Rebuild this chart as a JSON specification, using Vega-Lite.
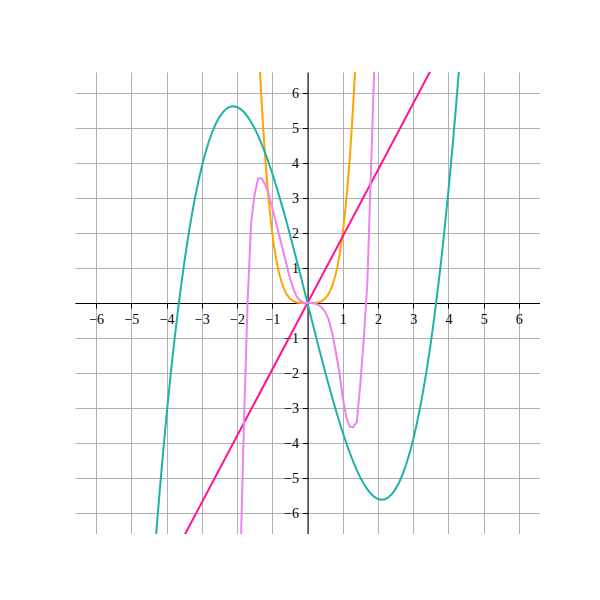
{
  "$schema": "https://vega.github.io/schema/vega-lite/v6.json",
  "width": 465,
  "height": 462,
  "autosize": {"type": "none"},
  "padding": {"left": 75, "top": 72, "right": 0, "bottom": 0},
  "background": "white",
  "config": {
    "view": {"stroke": null},
    "axis": {
      "labelFont": "Liberation Serif",
      "labelFontSize": 14,
      "labelColor": "black",
      "domainColor": "black",
      "domainWidth": 1,
      "tickColor": "black",
      "tickWidth": 1,
      "tickSize": 5,
      "labelPadding": 4,
      "grid": true,
      "gridColor": "#b0b0b0",
      "gridWidth": 1,
      "title": null
    }
  },
  "data": {
    "values": [
      {"f": "orange", "x": -1.4, "y": 7.6832},
      {"f": "orange", "x": -1.35, "y": 6.643},
      {"f": "orange", "x": -1.3, "y": 5.7122},
      {"f": "orange", "x": -1.25, "y": 4.8828},
      {"f": "orange", "x": -1.2, "y": 4.1472},
      {"f": "orange", "x": -1.15, "y": 3.498},
      {"f": "orange", "x": -1.1, "y": 2.9282},
      {"f": "orange", "x": -1.05, "y": 2.431},
      {"f": "orange", "x": -1.0, "y": 2.0},
      {"f": "orange", "x": -0.95, "y": 1.629},
      {"f": "orange", "x": -0.9, "y": 1.3122},
      {"f": "orange", "x": -0.85, "y": 1.044},
      {"f": "orange", "x": -0.8, "y": 0.8192},
      {"f": "orange", "x": -0.7, "y": 0.4802},
      {"f": "orange", "x": -0.6, "y": 0.2592},
      {"f": "orange", "x": -0.5, "y": 0.125},
      {"f": "orange", "x": -0.4, "y": 0.0512},
      {"f": "orange", "x": -0.3, "y": 0.0162},
      {"f": "orange", "x": -0.2, "y": 0.0032},
      {"f": "orange", "x": -0.1, "y": 0.0002},
      {"f": "orange", "x": 0.0, "y": 0.0},
      {"f": "orange", "x": 0.1, "y": 0.0002},
      {"f": "orange", "x": 0.2, "y": 0.0032},
      {"f": "orange", "x": 0.3, "y": 0.0162},
      {"f": "orange", "x": 0.4, "y": 0.0512},
      {"f": "orange", "x": 0.5, "y": 0.125},
      {"f": "orange", "x": 0.6, "y": 0.2592},
      {"f": "orange", "x": 0.7, "y": 0.4802},
      {"f": "orange", "x": 0.8, "y": 0.8192},
      {"f": "orange", "x": 0.85, "y": 1.044},
      {"f": "orange", "x": 0.9, "y": 1.3122},
      {"f": "orange", "x": 0.95, "y": 1.629},
      {"f": "orange", "x": 1.0, "y": 2.0},
      {"f": "orange", "x": 1.05, "y": 2.431},
      {"f": "orange", "x": 1.1, "y": 2.9282},
      {"f": "orange", "x": 1.15, "y": 3.498},
      {"f": "orange", "x": 1.2, "y": 4.1472},
      {"f": "orange", "x": 1.25, "y": 4.8828},
      {"f": "orange", "x": 1.3, "y": 5.7122},
      {"f": "orange", "x": 1.35, "y": 6.643},
      {"f": "orange", "x": 1.4, "y": 7.6832},
      {"f": "pink", "x": -3.8, "y": -7.22},
      {"f": "pink", "x": 0.0, "y": 0.0},
      {"f": "pink", "x": 3.8, "y": 7.22},
      {"f": "teal", "x": -4.4, "y": -7.955},
      {"f": "teal", "x": -4.3, "y": -6.652},
      {"f": "teal", "x": -4.2, "y": -5.426},
      {"f": "teal", "x": -4.1, "y": -4.276},
      {"f": "teal", "x": -4.0, "y": -3.2},
      {"f": "teal", "x": -3.9, "y": -2.196},
      {"f": "teal", "x": -3.8, "y": -1.262},
      {"f": "teal", "x": -3.7, "y": -0.396},
      {"f": "teal", "x": -3.6, "y": 0.403},
      {"f": "teal", "x": -3.5, "y": 1.1375},
      {"f": "teal", "x": -3.4, "y": 1.809},
      {"f": "teal", "x": -3.3, "y": 2.419},
      {"f": "teal", "x": -3.2, "y": 2.97},
      {"f": "teal", "x": -3.1, "y": 3.463},
      {"f": "teal", "x": -3.0, "y": 3.9},
      {"f": "teal", "x": -2.9, "y": 4.283},
      {"f": "teal", "x": -2.8, "y": 4.614},
      {"f": "teal", "x": -2.7, "y": 4.895},
      {"f": "teal", "x": -2.6, "y": 5.127},
      {"f": "teal", "x": -2.5, "y": 5.3125},
      {"f": "teal", "x": -2.4, "y": 5.453},
      {"f": "teal", "x": -2.3, "y": 5.55},
      {"f": "teal", "x": -2.2, "y": 5.606},
      {"f": "teal", "x": -2.1, "y": 5.622},
      {"f": "teal", "x": -2.0, "y": 5.6},
      {"f": "teal", "x": -1.9, "y": 5.542},
      {"f": "teal", "x": -1.8, "y": 5.45},
      {"f": "teal", "x": -1.7, "y": 5.326},
      {"f": "teal", "x": -1.6, "y": 5.171},
      {"f": "teal", "x": -1.5, "y": 4.988},
      {"f": "teal", "x": -1.4, "y": 4.777},
      {"f": "teal", "x": -1.3, "y": 4.541},
      {"f": "teal", "x": -1.2, "y": 4.282},
      {"f": "teal", "x": -1.1, "y": 4.001},
      {"f": "teal", "x": -1.0, "y": 3.7},
      {"f": "teal", "x": -0.9, "y": 3.381},
      {"f": "teal", "x": -0.8, "y": 3.046},
      {"f": "teal", "x": -0.7, "y": 2.697},
      {"f": "teal", "x": -0.6, "y": 2.335},
      {"f": "teal", "x": -0.5, "y": 1.9625},
      {"f": "teal", "x": -0.4, "y": 1.581},
      {"f": "teal", "x": -0.3, "y": 1.1919},
      {"f": "teal", "x": -0.2, "y": 0.798},
      {"f": "teal", "x": -0.1, "y": 0.3997},
      {"f": "teal", "x": 0.0, "y": 0.0},
      {"f": "teal", "x": 0.1, "y": -0.3997},
      {"f": "teal", "x": 0.2, "y": -0.798},
      {"f": "teal", "x": 0.3, "y": -1.1919},
      {"f": "teal", "x": 0.4, "y": -1.581},
      {"f": "teal", "x": 0.5, "y": -1.9625},
      {"f": "teal", "x": 0.6, "y": -2.335},
      {"f": "teal", "x": 0.7, "y": -2.697},
      {"f": "teal", "x": 0.8, "y": -3.046},
      {"f": "teal", "x": 0.9, "y": -3.381},
      {"f": "teal", "x": 1.0, "y": -3.7},
      {"f": "teal", "x": 1.1, "y": -4.001},
      {"f": "teal", "x": 1.2, "y": -4.282},
      {"f": "teal", "x": 1.3, "y": -4.541},
      {"f": "teal", "x": 1.4, "y": -4.777},
      {"f": "teal", "x": 1.5, "y": -4.988},
      {"f": "teal", "x": 1.6, "y": -5.171},
      {"f": "teal", "x": 1.7, "y": -5.326},
      {"f": "teal", "x": 1.8, "y": -5.45},
      {"f": "teal", "x": 1.9, "y": -5.542},
      {"f": "teal", "x": 2.0, "y": -5.6},
      {"f": "teal", "x": 2.1, "y": -5.622},
      {"f": "teal", "x": 2.2, "y": -5.606},
      {"f": "teal", "x": 2.3, "y": -5.55},
      {"f": "teal", "x": 2.4, "y": -5.453},
      {"f": "teal", "x": 2.5, "y": -5.3125},
      {"f": "teal", "x": 2.6, "y": -5.127},
      {"f": "teal", "x": 2.7, "y": -4.895},
      {"f": "teal", "x": 2.8, "y": -4.614},
      {"f": "teal", "x": 2.9, "y": -4.283},
      {"f": "teal", "x": 3.0, "y": -3.9},
      {"f": "teal", "x": 3.1, "y": -3.463},
      {"f": "teal", "x": 3.2, "y": -2.97},
      {"f": "teal", "x": 3.3, "y": -2.419},
      {"f": "teal", "x": 3.4, "y": -1.809},
      {"f": "teal", "x": 3.5, "y": -1.1375},
      {"f": "teal", "x": 3.6, "y": -0.403},
      {"f": "teal", "x": 3.7, "y": 0.396},
      {"f": "teal", "x": 3.8, "y": 1.262},
      {"f": "teal", "x": 3.9, "y": 2.196},
      {"f": "teal", "x": 4.0, "y": 3.2},
      {"f": "teal", "x": 4.1, "y": 4.276},
      {"f": "teal", "x": 4.2, "y": 5.426},
      {"f": "teal", "x": 4.3, "y": 6.652},
      {"f": "teal", "x": 4.4, "y": 7.955},
      {"f": "violet", "x": -1.9, "y": -7.2},
      {"f": "violet", "x": -1.8, "y": -3.3},
      {"f": "violet", "x": -1.7, "y": 0.05},
      {"f": "violet", "x": -1.6, "y": 2.3},
      {"f": "violet", "x": -1.5, "y": 3.12},
      {"f": "violet", "x": -1.4, "y": 3.56},
      {"f": "violet", "x": -1.3, "y": 3.56},
      {"f": "violet", "x": -1.2, "y": 3.38},
      {"f": "violet", "x": -1.1, "y": 3.1},
      {"f": "violet", "x": -1.0, "y": 2.72},
      {"f": "violet", "x": -0.9, "y": 2.32},
      {"f": "violet", "x": -0.8, "y": 1.92},
      {"f": "violet", "x": -0.7, "y": 1.52},
      {"f": "violet", "x": -0.6, "y": 1.12},
      {"f": "violet", "x": -0.5, "y": 0.72},
      {"f": "violet", "x": -0.4, "y": 0.4},
      {"f": "violet", "x": -0.3, "y": 0.17},
      {"f": "violet", "x": -0.2, "y": 0.06},
      {"f": "violet", "x": -0.1, "y": 0.01},
      {"f": "violet", "x": 0.0, "y": 0.0},
      {"f": "violet", "x": 0.1, "y": -0.002},
      {"f": "violet", "x": 0.2, "y": -0.015},
      {"f": "violet", "x": 0.3, "y": -0.05},
      {"f": "violet", "x": 0.4, "y": -0.12},
      {"f": "violet", "x": 0.5, "y": -0.25},
      {"f": "violet", "x": 0.6, "y": -0.47},
      {"f": "violet", "x": 0.7, "y": -0.85},
      {"f": "violet", "x": 0.8, "y": -1.38},
      {"f": "violet", "x": 0.9, "y": -1.95},
      {"f": "violet", "x": 1.0, "y": -2.7},
      {"f": "violet", "x": 1.1, "y": -3.25},
      {"f": "violet", "x": 1.2, "y": -3.53},
      {"f": "violet", "x": 1.3, "y": -3.55},
      {"f": "violet", "x": 1.4, "y": -3.4},
      {"f": "violet", "x": 1.5, "y": -2.3},
      {"f": "violet", "x": 1.6, "y": -1.0},
      {"f": "violet", "x": 1.7, "y": 0.6},
      {"f": "violet", "x": 1.8, "y": 3.7},
      {"f": "violet", "x": 1.9, "y": 6.9}
    ]
  },
  "mark": {"type": "line", "strokeWidth": 2, "clip": true},
  "encoding": {
    "x": {
      "field": "x",
      "type": "quantitative",
      "scale": {"domain": [-6.6, 6.6], "nice": false, "zero": false},
      "axis": {
        "orient": "bottom",
        "offset": -231,
        "values": [-6, -5, -4, -3, -2, -1, 0, 1, 2, 3, 4, 5, 6],
        "format": "d",
        "labelExpr": "datum.value == 0 ? '' : datum.label",
        "labelFlush": false,
        "labelOverlap": false
      }
    },
    "y": {
      "field": "y",
      "type": "quantitative",
      "scale": {"domain": [-6.6, 6.6], "nice": false, "zero": false},
      "axis": {
        "orient": "left",
        "offset": -232.5,
        "values": [-6, -5, -4, -3, -2, -1, 0, 1, 2, 3, 4, 5, 6],
        "format": "d",
        "labelExpr": "datum.value == 0 ? '' : datum.label",
        "labelFlush": false,
        "labelOverlap": false
      }
    },
    "color": {
      "field": "f",
      "type": "nominal",
      "scale": {
        "domain": ["orange", "pink", "teal", "violet"],
        "range": ["#FFA500", "#FF1493", "#20B2AA", "#EE82EE"]
      },
      "legend": null
    }
  }
}
